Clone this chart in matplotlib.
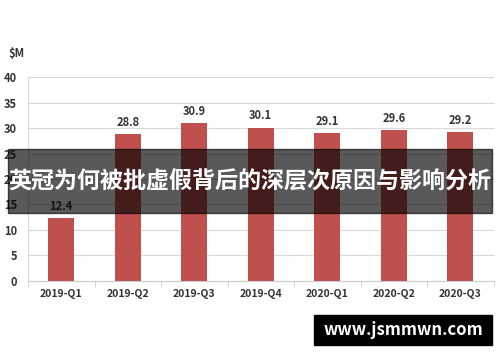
import matplotlib.pyplot as plt
from matplotlib.patches import Rectangle

plt.rcParams['font.family'] = ['Noto Sans CJK SC', 'DejaVu Sans']

# 数据
quarters = ['2019-Q1', '2019-Q2', '2019-Q3', '2019-Q4', '2020-Q1', '2020-Q2', '2020-Q3']
revenue = [12.4, 28.8, 30.9, 30.1, 29.1, 29.6, 29.2]
y_ticks = [0, 5, 10, 15, 20, 25, 30, 35, 40]

title_text = '英冠为何被批虚假背后的深层次原因与影响分析'
site_text = 'www.jsmmwn.com'

fig = plt.figure(figsize=(5, 3.62), dpi=100)
ax = fig.add_axes([0.056, 0.224, 0.931, 0.563])

x = range(len(quarters))
ax.bar(x, revenue, width=0.39, color='#C0504D', zorder=2)
for xi, v in zip(x, revenue):
    ax.text(xi, v + 1.0, f'{v}', ha='center', va='bottom',
            fontsize=8, fontweight='bold', color='#333333')

ax.set_xlim(-0.5, len(quarters) - 0.5)
ax.set_ylim(0, 40)
ax.set_yticks(y_ticks)
ax.set_yticklabels([str(t) for t in y_ticks], fontsize=8, fontweight='bold', color='#333333')
ax.set_xticks(list(x))
ax.set_xticklabels(quarters, fontsize=7.5, fontweight='bold', color='#333333')
ax.tick_params(axis='y', length=0, pad=8)
ax.tick_params(axis='x', length=0, pad=6)

# 类别之间的小刻度
ax.set_xticks([i + 0.5 for i in range(-1, len(quarters))], minor=True)
ax.tick_params(axis='x', which='minor', length=4, color='#cccccc')

ax.grid(axis='y', color='#d9d9d9', linewidth=0.8, zorder=0)
for s in ['top', 'right']:
    ax.spines[s].set_visible(False)
ax.spines['left'].set_color('#d9d9d9')
ax.spines['bottom'].set_color('#cccccc')

fig.text(0.016, 0.842, '$M', fontsize=8, fontweight='bold', color='#333333')

# 标题横幅
fig.patches.append(Rectangle((0.016, 1 - 213 / 362), 0.968, 64 / 362,
                             transform=fig.transFigure, color='black', alpha=0.65, zorder=5))
fig.text(0.5, 1 - 182 / 362, title_text, ha='center', va='center',
         fontsize=16.6, fontweight='bold', color='white', zorder=6)

# 网址水印
fig.patches.append(Rectangle((0.628, 1 - 345 / 362), 0.356, 30 / 362,
                             transform=fig.transFigure, color='black', zorder=5))
fig.text(0.806, 1 - 330 / 362, site_text, ha='center', va='center',
         fontsize=12, fontweight='bold', color='white', zorder=6)

fig.savefig('out.png', dpi=100)
